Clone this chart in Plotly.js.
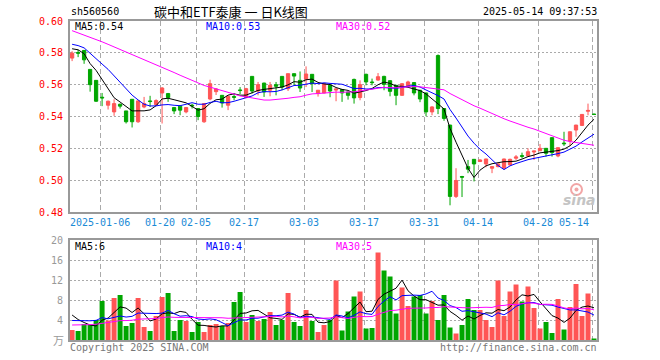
<!DOCTYPE html>
<html><head><meta charset="utf-8">
<script src="https://cdn.plot.ly/plotly-3.0.1.min.js"></script>
<style>html,body{margin:0;padding:0;background:#fff}#c{width:660px;height:360px}</style>
</head><body><div id="c"></div>
<script>
// ---- data ----
const openP = [.5767,.5802,.5815,.5696,.5627,.5521,.5471,.5429,.5477,.5435,
 .5508,.5367,.5460,.5498,.5475,.5548,.5544,.5456,.5465,.5429,
 .5471,.5450,.5367,.5510,.5556,.5533,.5471,.5525,.5567,.5519,
 .5652,.5560,.5610,.5565,.5600,.5652,.5575,.5669,.5627,.5636,
 .5665,.5544,.5548,.5596,.5566,.5569,.5554,.5633,.5519,.5665,
 .5617,.5629,.5652,.5625,.5596,.5533,.5590,.5613,.5565,.5548,
 .5429,.5783,.5450,.5346,.4898,.5023,.5085,.5131,.5117,.5102,
 .5075,.5085,.5075,.5096,.5138,.5154,.5152,.5177,.5185,.5200,
 .5267,.5152,.5233,.5246,.5315,.5344,.5433,.5415];
const highP = [.5810,.5819,.5818,.5698,.5628,.5548,.5500,.5508,.5481,.5435,
 .5508,.5500,.5523,.5530,.5508,.5585,.5548,.5460,.5465,.5460,
 .5480,.5450,.5485,.5631,.5579,.5533,.5533,.5544,.5585,.5580,
 .5652,.5617,.5612,.5617,.5617,.5652,.5669,.5669,.5683,.5715,
 .5665,.5565,.5610,.5598,.5575,.5571,.5556,.5638,.5627,.5669,
 .5638,.5673,.5656,.5627,.5598,.5610,.5625,.5615,.5567,.5550,
 .5465,.5790,.5452,.5348,.5075,.5027,.5127,.5133,.5131,.5135,
 .5088,.5104,.5135,.5135,.5158,.5173,.5200,.5183,.5227,.5202,
 .5269,.5206,.5304,.5306,.5348,.5415,.5481,.5417];
const lowP = [.5748,.5773,.5731,.5556,.5492,.5465,.5444,.5404,.5450,.5356,
 .5331,.5360,.5452,.5460,.5465,.5356,.5492,.5415,.5408,.5420,
 .5450,.5377,.5360,.5502,.5535,.5456,.5440,.5502,.5540,.5515,
 .5544,.5533,.5523,.5527,.5533,.5565,.5560,.5596,.5554,.5585,
 .5554,.5525,.5545,.5521,.5496,.5492,.5506,.5481,.5502,.5596,
 .5596,.5625,.5565,.5527,.5471,.5530,.5585,.5533,.5490,.5402,
 .5408,.5415,.5373,.4842,.4888,.4894,.5044,.4992,.5115,.5081,
 .5044,.5081,.5065,.5092,.5127,.5138,.5148,.5127,.5183,.5148,
 .5148,.5144,.5215,.5215,.5273,.5340,.5408,.5413];
const closeP = [.5798,.5798,.5756,.5600,.5496,.5517,.5496,.5481,.5465,.5367,
 .5367,.5498,.5481,.5494,.5500,.5579,.5519,.5435,.5440,.5456,
 .5467,.5400,.5481,.5606,.5573,.5485,.5527,.5521,.5563,.5575,
 .5560,.5600,.5554,.5596,.5590,.5585,.5669,.5654,.5579,.5667,
 .5606,.5565,.5606,.5560,.5573,.5548,.5533,.5517,.5600,.5617,
 .5613,.5650,.5602,.5558,.5533,.5606,.5617,.5548,.5510,.5429,
 .5460,.5450,.5388,.4898,.4998,.5019,.5069,.5102,.5127,.5133,
 .5085,.5102,.5133,.5131,.5146,.5150,.5179,.5183,.5200,.5169,
 .5173,.5204,.5229,.5304,.5346,.5413,.5438,.5413];
// volume, 万
const volume = [2.0,1.8,3.2,3.0,4.0,7.8,3.9,8.4,9.0,2.8,
 3.4,8.4,2.6,1.8,4.8,8.6,9.4,1.8,4.0,3.8,
 1.6,3.6,1.6,3.0,3.2,2.8,3.4,7.6,9.6,3.6,
 5.0,3.8,4.2,5.6,3.0,4.0,9.4,3.6,2.8,6.0,
 3.8,1.6,3.0,4.0,11.9,1.9,5.7,8.7,9.7,2.3,
 2.4,17.5,13.9,12.7,5.3,10.5,6.8,8.7,9.0,5.3,
 7.8,4.0,9.0,2.5,1.3,3.0,8.2,6.0,6.0,4.0,
 2.6,11.9,4.8,9.7,11.1,7.7,10.7,6.4,2.3,3.6,
 1.4,8.2,2.1,6.6,11.2,4.8,9.3,0.3];
// estimated sessions before the visible window (only feed the moving averages)
const preClose = [.620,.616,.601,.591,.599,.597,.595,.594,.584,.584,
 .597,.595,.597,.597,.609,.603,.595,.595,.597,.598,
 .588,.590,.592,.587,.584,.583,.588,.591,.571];
const preVol = [2.0,1.6,2.2,1.5,1.9,2.4,1.7,1.8,2.1,1.6,
 1.9,1.7,2.0,1.5,3.6,5.2,4.1,3.8,4.6,3.8,
 2.4,3.3,2.9,3.1,2.3,6.3,6.2,5.5,5.0];
const tickIdx = [5,15,21,29,39,49,59,68,78,87];
const tickText = ['2025-01-06','01-20','02-05','02-17','03-03','03-17','03-31','04-14','04-28','05-14'];
const priceTicks = [0.48,0.50,0.52,0.54,0.56,0.58,0.60];
const volTicks = [4,8,12,16,20];
const priceLegend = [0.54,0.53,0.52];
const volLegend = [6,4,5];

// ---- helpers ----
const RED = '#ff5555', GREEN = '#00a600';
const idx = closeP.map((_, i) => i);
function movAvg(pre, arr, n) {
  const all = pre.concat(arr), off = pre.length;
  return arr.map((_, i) => { let s = 0; for (let k = 0; k < n; k++) s += all[off + i - k]; return s / n; });
}
const L = 70, R = 597, T = 21, B = 340;
const px = x => (x - L) / (R - L);
const py = y => (B - y) / (B - T);
const MONO = 'DejaVu Sans Mono';
const FS = 10;

const maCols = ['#000000', '#0000ff', '#ff00ff'];
const periods = [5, 10, 30];
const traces = [];
traces.push({type:'candlestick', x: idx, open: openP, high: highP, low: lowP, close: closeP,
  xaxis:'x', yaxis:'y', whiskerwidth: 0, hoverinfo:'skip',
  increasing:{line:{color:RED, width:1}, fillcolor:RED},
  decreasing:{line:{color:GREEN, width:1}, fillcolor:GREEN}});
periods.forEach((n, k) => traces.push({type:'scatter', mode:'lines', x: idx, y: movAvg(preClose, closeP, n),
  xaxis:'x', yaxis:'y', line:{color: maCols[k], width:1}, hoverinfo:'skip'}));
traces.push({type:'bar', x: idx, y: volume, xaxis:'x2', yaxis:'y2', hoverinfo:'skip',
  marker:{color: idx.map(i => closeP[i] > openP[i] ? RED : GREEN), line:{width:0}}});
periods.forEach((n, k) => traces.push({type:'scatter', mode:'lines', x: idx, y: movAvg(preVol, volume, n),
  xaxis:'x2', yaxis:'y2', line:{color: maCols[k], width:1}, hoverinfo:'skip'}));

const gridX = tickIdx.map(i => i - 0.28);
const xBase = {range:[-0.35, 87.5], tickvals: gridX, showticklabels:false, ticks:'',
  showgrid:true, gridcolor:'#aaaaaa', gridwidth:1, griddash:'5px,3px',
  showline:true, mirror:true, linecolor:'#999999', linewidth:2, zeroline:false, fixedrange:true};
const layout = {
  width:660, height:360, margin:{l:L, r:660-R, t:T, b:360-B, pad:0},
  paper_bgcolor:'#fff', plot_bgcolor:'#fff', showlegend:false, boxgap:0.22, bargap:0.17,
  xaxis: Object.assign({}, xBase, {domain:[0,1], anchor:'y', rangeslider:{visible:false}}),
  xaxis2: Object.assign({}, xBase, {domain:[0,1], anchor:'y2', matches:'x'}),
  yaxis: {domain:[py(212), 1], range:[0.48, 0.60], tickvals: priceTicks, ticktext: priceTicks.map(v => v.toFixed(2)),
    tickfont:{family:MONO, size:FS, color:'#ff0000'}, ticks:'', ticklabelstandoff:3,
    showgrid:true, gridcolor:'#aaaaaa', gridwidth:1, griddash:'2px,2px',
    showline:true, mirror:true, linecolor:'#999999', linewidth:2, zeroline:false, fixedrange:true},
  yaxis2: {domain:[0, py(240)], range:[0, 20], tickvals: volTicks, ticktext: volTicks.map(String),
    tickfont:{family:MONO, size:FS, color:'#999999'}, ticks:'', ticklabelstandoff:3,
    showgrid:true, gridcolor:'#aaaaaa', gridwidth:1, griddash:'2px,2px',
    showline:true, mirror:true, linecolor:'#999999', linewidth:2, zeroline:false, fixedrange:true},
  annotations: [],
  shapes: [
    {type:'circle', xref:'paper', yref:'paper', x0: px(571), x1: px(582), y0: py(195), y1: py(184),
     line:{color:'#f2a6a6', width:2}, fillcolor:'rgba(0,0,0,0)'},
    {type:'circle', xref:'paper', yref:'paper', x0: px(574.5), x1: px(578.5), y0: py(191.5), y1: py(187.5),
     line:{width:0}, fillcolor:'#f2a6a6'}
  ]
};
const A = layout.annotations;
function txt(text, x, y, anchor, color, size, family) {
  A.push({text, xref:'paper', yref:'paper', x: px(x), y: py(y), xanchor: anchor, yanchor:'middle',
    showarrow:false, font:{family: family || MONO, size: size || FS, color: color || '#000'}});
}
txt('sh560560', 69, 12, 'left', '#000');
txt('碳中和ETF泰康 一 日K线图', 231, 12, 'center', '#000', 13, 'Noto Sans CJK SC');
txt('2025-05-14 09:37:53', 599, 12, 'right', '#000');
const legX = [73, 204, 334];
periods.forEach((n, k) => {
  txt('MA' + n + ':' + priceLegend[k].toFixed(2), legX[k], 27, 'left', maCols[k]);
  txt('MA' + n + ':' + volLegend[k], legX[k], 247, 'left', maCols[k]);
});
tickIdx.forEach((i, k) => {
  const last = k === tickIdx.length - 1;
  A.push({text: tickText[k], xref:'x', yref:'paper', x: i - 0.28, y: py(222), xanchor: last ? 'right' : 'center',
    xshift: last ? -1 : 0, yanchor:'middle', showarrow:false, font:{family:MONO, size:FS, color:'#1a8ad6'}});
});
txt('万', 66, 340, 'right', '#999999', 11, 'Noto Sans CJK SC');
txt('Copyright 2025 SINA.COM', 68, 347, 'left', '#777777');
txt('http://finance.sina.com.cn', 599, 347, 'right', '#777777');
txt('<b><i>sina</i></b>', 598, 200, 'right', '#c4c4c4', 14, 'DejaVu Sans');

Plotly.newPlot('c', traces, layout, {staticPlot:true, displayModeBar:false});
</script></body></html>
